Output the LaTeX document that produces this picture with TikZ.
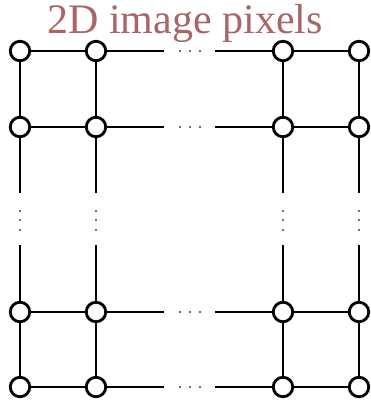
\documentclass[tikz,border=0pt]{standalone}
\usepackage{fontspec}
\setmainfont{Liberation Serif}
\definecolor{titlecol}{RGB}{168,102,102}
\begin{document}
\begin{tikzpicture}[x=1pt,y=-1pt,
  px/.style={circle,draw=black,fill=white,line width=2.8pt,minimum size=19.5pt,inner sep=0pt},
  edge/.style={line width=2.7pt},
  thinedge/.style={line width=1.5pt},
  dotmark/.style={circle,fill=black!75,inner sep=0pt,minimum size=2.2pt}]
\useasboundingbox (0,0) rectangle (371,408);
\node[text=titlecol,font=\fontsize{42}{42}\selectfont,anchor=base] (title) at (185,33) {2D image pixels};
% node grid
\foreach \c/\x in {1/20,2/96,3/283,4/359}{
  \foreach \r/\y in {1/51,2/127,3/312,4/387}{
    \coordinate (p\c\r) at (\x,\y);
  }
}
% coordinates for gaps
\foreach \r/\y in {1/51,2/127,3/312,4/387}{
  \coordinate (hl\r) at (164,\y);
  \coordinate (hr\r) at (215,\y);
  \foreach \k/\dx in {a/180,b/190,c/200}{ \node[dotmark] (hd\r\k) at (\dx,\y) {}; }
}
\foreach \c/\x in {1/20,2/96,3/283,4/359}{
  \coordinate (vt\c) at (\x,193);
  \coordinate (vb\c) at (\x,245);
  \foreach \k/\dy in {a/211,b/220,c/230}{ \node[dotmark] (vd\c\k) at (\x,\dy) {}; }
}
% horizontal edges
\foreach \r in {1,2,4}{
  \draw[edge] (p1\r) -- (p2\r) -- (hl\r);
  \draw[edge] (hr\r) -- (p3\r) -- (p4\r);
}
\draw[thinedge] (p13) -- (p23) -- (hl3);
\draw[thinedge] (hr3) -- (p33) -- (p43);
% vertical edges
\foreach \c in {1,2,3,4}{
  \draw[edge] (p\c1) -- (p\c2) -- (vt\c);
  \draw[edge] (vb\c) -- (p\c3) -- (p\c4);
}
% pixel nodes
\foreach \c in {1,2,3,4}{
  \foreach \r in {1,2,3,4}{
    \node[px] (n\c\r) at (p\c\r) {};
  }
}
\end{tikzpicture}
\end{document}
